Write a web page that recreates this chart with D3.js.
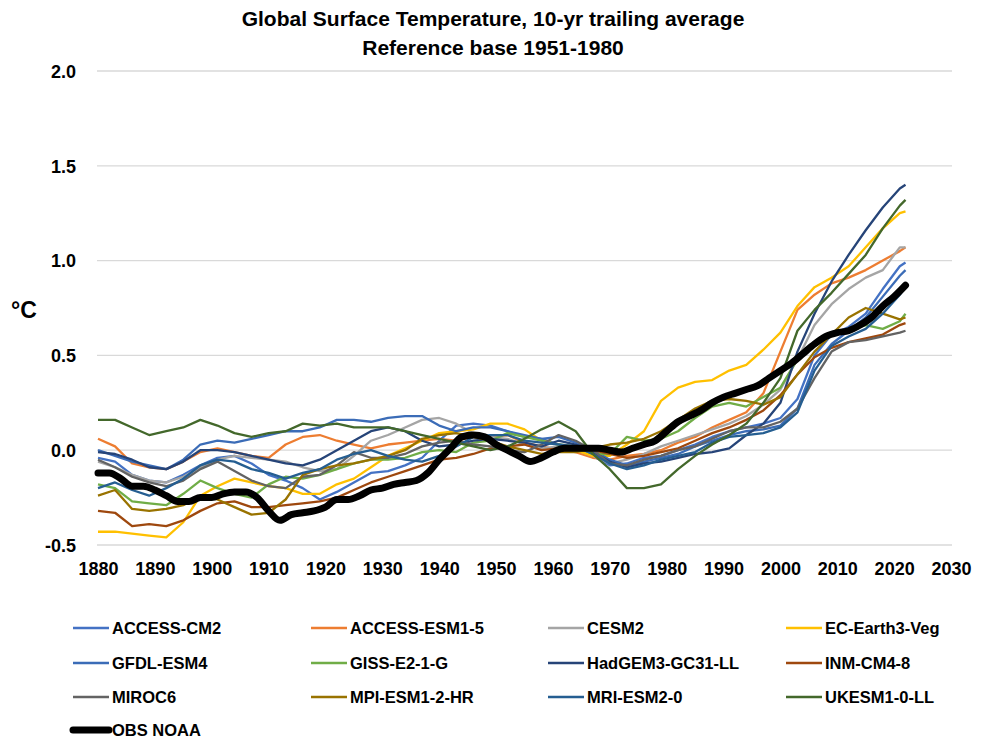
<!DOCTYPE html>
<html>
<head>
<meta charset="utf-8">
<script src="https://cdn.jsdelivr.net/npm/d3@7"></script>
<style>
  body { margin: 0; background: #fff; }
  text { font-family: "Liberation Sans", Arial, sans-serif; font-weight: bold; fill: #000; }
</style>
</head>
<body>
<svg id="chart" width="986" height="741"></svg>
<script>
// years the model curves were read at
var modelYears = [1880, 1883, 1886, 1889, 1892, 1895, 1898, 1901, 1904, 1907,
                  1910, 1913, 1916, 1919, 1922, 1925, 1928, 1931, 1934, 1937,
                  1940, 1943, 1946, 1949, 1952, 1955, 1958, 1961, 1964, 1967,
                  1970, 1973, 1976, 1979, 1982, 1985, 1988, 1991, 1994, 1997,
                  2000, 2003, 2006, 2009, 2012, 2015, 2018, 2021, 2022];

var obsYears = [1880, 1882, 1884, 1886, 1888, 1890, 1892, 1894, 1896, 1898,
                1900, 1902, 1904, 1906, 1908, 1910, 1912, 1914, 1916, 1918,
                1920, 1922, 1924, 1926, 1928, 1930, 1932, 1934, 1936, 1938,
                1940, 1942, 1944, 1946, 1948, 1950, 1952, 1954, 1956, 1958,
                1960, 1962, 1964, 1966, 1968, 1970, 1972, 1974, 1976, 1978,
                1980, 1982, 1984, 1986, 1988, 1990, 1992, 1994, 1996, 1998,
                2000, 2002, 2004, 2006, 2008, 2010, 2012, 2014, 2016, 2018,
                2020, 2022];

var accessCM2 = [-0.04, -0.06, -0.13, -0.16, -0.17, -0.13, -0.08, -0.04, -0.03, -0.07,
                 -0.13, -0.16, -0.20, -0.26, -0.22, -0.17, -0.12, -0.11, -0.08, -0.04,
                 0.05, 0.13, 0.14, 0.13, 0.10, 0.07, 0.06, 0.03, 0.01, -0.03,
                 -0.08, -0.07, -0.04, -0.03, 0.00, 0.03, 0.07, 0.10, 0.12, 0.14,
                 0.17, 0.27, 0.50, 0.61, 0.65, 0.72, 0.85, 0.97, 0.99];
var accessESM = [0.06, 0.02, -0.07, -0.09, -0.10, -0.06, -0.01, 0.01, -0.01, -0.03,
                 -0.04, 0.03, 0.07, 0.08, 0.05, 0.03, 0.01, 0.03, 0.04, 0.05,
                 0.06, 0.05, 0.07, 0.07, 0.08, 0.04, 0.02, 0.00, -0.01, -0.04,
                 -0.05, -0.03, -0.02, 0.00, 0.04, 0.07, 0.12, 0.16, 0.20, 0.30,
                 0.52, 0.74, 0.82, 0.88, 0.91, 0.95, 1.00, 1.05, 1.07];
var cesm2 = [-0.06, -0.09, -0.13, -0.16, -0.17, -0.14, -0.09, -0.05, -0.03, -0.04,
             -0.05, -0.06, -0.09, -0.11, -0.10, -0.03, 0.05, 0.08, 0.12, 0.16,
             0.17, 0.14, 0.09, 0.07, 0.06, 0.03, 0.01, 0.02, 0.00, -0.03,
             -0.07, -0.05, -0.02, 0.02, 0.05, 0.08, 0.11, 0.14, 0.18, 0.24,
             0.32, 0.48, 0.66, 0.77, 0.85, 0.91, 0.95, 1.07, 1.07];
var ecEarth = [-0.43, -0.43, -0.44, -0.45, -0.46, -0.38, -0.24, -0.19, -0.15, -0.17,
               -0.19, -0.20, -0.23, -0.23, -0.18, -0.15, -0.09, -0.03, 0.01, 0.05,
               0.09, 0.10, 0.11, 0.14, 0.14, 0.11, 0.05, 0.03, 0.00, -0.03,
               -0.03, 0.03, 0.10, 0.26, 0.33, 0.36, 0.37, 0.42, 0.45, 0.53,
               0.62, 0.76, 0.86, 0.91, 0.97, 1.07, 1.17, 1.25, 1.26];
var gfdl = [0.00, -0.03, -0.06, -0.08, -0.10, -0.05, 0.03, 0.05, 0.04, 0.06,
            0.08, 0.10, 0.10, 0.12, 0.16, 0.16, 0.15, 0.17, 0.18, 0.18,
            0.13, 0.10, 0.12, 0.12, 0.10, 0.08, 0.06, 0.07, 0.04, 0.00,
            -0.05, -0.08, -0.06, -0.04, -0.02, 0.02, 0.05, 0.08, 0.10, 0.11,
            0.13, 0.22, 0.45, 0.56, 0.63, 0.70, 0.81, 0.92, 0.95];
var giss = [-0.18, -0.20, -0.27, -0.28, -0.29, -0.23, -0.16, -0.20, -0.23, -0.25,
            -0.18, -0.14, -0.15, -0.13, -0.10, -0.07, -0.05, -0.05, -0.04, -0.01,
            0.00, -0.01, 0.04, 0.05, 0.09, 0.07, 0.05, 0.03, 0.02, -0.02,
            -0.02, 0.07, 0.05, 0.06, 0.10, 0.17, 0.23, 0.25, 0.23, 0.28,
            0.33, 0.48, 0.55, 0.61, 0.63, 0.66, 0.64, 0.68, 0.72];
var hadgem = [-0.01, -0.02, -0.05, -0.09, -0.10, -0.06, 0.00, 0.00, -0.01, -0.03,
              -0.05, -0.07, -0.08, -0.05, 0.00, 0.05, 0.10, 0.12, 0.10, 0.05,
              0.02, 0.03, 0.05, 0.06, 0.05, 0.04, 0.02, 0.05, 0.03, -0.01,
              -0.06, -0.09, -0.07, -0.06, -0.04, -0.02, -0.01, 0.01, 0.08, 0.14,
              0.25, 0.52, 0.72, 0.89, 1.03, 1.16, 1.28, 1.38, 1.40];
var inm = [-0.32, -0.33, -0.40, -0.39, -0.40, -0.37, -0.32, -0.28, -0.27, -0.30,
           -0.30, -0.29, -0.28, -0.27, -0.25, -0.21, -0.17, -0.14, -0.11, -0.08,
           -0.05, -0.04, -0.02, 0.01, 0.02, 0.03, 0.00, 0.01, 0.00, 0.00,
           -0.02, -0.04, -0.03, -0.01, 0.01, 0.05, 0.09, 0.12, 0.16, 0.21,
           0.29, 0.40, 0.49, 0.54, 0.57, 0.59, 0.61, 0.66, 0.67];
var miroc = [-0.05, -0.09, -0.14, -0.17, -0.19, -0.16, -0.10, -0.06, -0.11, -0.16,
             -0.19, -0.20, -0.14, -0.13, -0.08, -0.01, -0.04, -0.04, -0.02, 0.02,
             0.04, 0.05, 0.03, 0.02, 0.00, -0.01, 0.03, 0.08, 0.05, 0.00,
             -0.07, -0.08, -0.05, -0.03, 0.00, 0.02, 0.06, 0.10, 0.12, 0.12,
             0.15, 0.22, 0.38, 0.52, 0.57, 0.58, 0.60, 0.62, 0.63];
var mpi = [-0.24, -0.21, -0.31, -0.32, -0.31, -0.29, -0.24, -0.26, -0.30, -0.34,
           -0.33, -0.26, -0.13, -0.10, -0.08, -0.07, -0.05, -0.03, 0.00, 0.06,
           0.08, 0.09, 0.07, 0.05, 0.02, 0.00, -0.02, -0.01, -0.01, 0.01,
           0.03, 0.04, 0.06, 0.10, 0.16, 0.22, 0.26, 0.27, 0.26, 0.24,
           0.28, 0.40, 0.52, 0.61, 0.70, 0.75, 0.72, 0.69, 0.70];
var mri = [-0.20, -0.17, -0.21, -0.24, -0.20, -0.15, -0.08, -0.05, -0.06, -0.10,
           -0.12, -0.15, -0.12, -0.10, -0.05, -0.02, 0.00, -0.03, -0.05, -0.06,
           -0.03, 0.02, 0.07, 0.08, 0.08, 0.05, 0.04, 0.03, 0.02, -0.02,
           -0.07, -0.10, -0.08, -0.05, -0.03, -0.01, 0.04, 0.07, 0.08, 0.09,
           0.12, 0.20, 0.42, 0.55, 0.60, 0.64, 0.72, 0.82, 0.86];
var ukesm = [0.16, 0.16, 0.12, 0.08, 0.10, 0.12, 0.16, 0.13, 0.09, 0.07,
             0.09, 0.10, 0.14, 0.13, 0.14, 0.12, 0.12, 0.12, 0.10, 0.08,
             0.06, 0.04, 0.02, 0.00, 0.02, 0.06, 0.11, 0.15, 0.10, -0.02,
             -0.10, -0.20, -0.20, -0.18, -0.10, -0.03, 0.03, 0.08, 0.14, 0.25,
             0.38, 0.63, 0.74, 0.83, 0.93, 1.03, 1.17, 1.29, 1.32];

var obsNOAA = [-0.12, -0.12, -0.15, -0.19, -0.19, -0.21, -0.24, -0.27, -0.27, -0.25,
               -0.25, -0.23, -0.22, -0.22, -0.25, -0.32, -0.37, -0.34, -0.33, -0.32,
               -0.30, -0.26, -0.26, -0.24, -0.21, -0.20, -0.18, -0.17, -0.16, -0.12,
               -0.05, 0.01, 0.07, 0.08, 0.07, 0.03, 0.00, -0.03, -0.06, -0.04,
               -0.01, 0.01, 0.01, 0.01, 0.01, 0.00, -0.01, 0.01, 0.03, 0.05,
               0.10, 0.15, 0.18, 0.21, 0.25, 0.28, 0.30, 0.32, 0.34, 0.38,
               0.42, 0.46, 0.51, 0.56, 0.60, 0.62, 0.63, 0.66, 0.70, 0.76,
               0.81, 0.87];

var modelNames = ["ACCESS-CM2", "ACCESS-ESM1-5", "CESM2", "EC-Earth3-Veg",
                  "GFDL-ESM4", "GISS-E2-1-G", "HadGEM3-GC31-LL", "INM-CM4-8",
                  "MIROC6", "MPI-ESM1-2-HR", "MRI-ESM2-0", "UKESM1-0-LL"];
var modelValues = [accessCM2, accessESM, cesm2, ecEarth, gfdl, giss,
                   hadgem, inm, miroc, mpi, mri, ukesm];
var modelColors = ["#4472C4", "#ED7D31", "#A5A5A5", "#FFC000",
                   "#3B6CB7", "#70AD47", "#264478", "#9E480E",
                   "#636363", "#997300", "#255E91", "#43682B"];

var yTicks = [-0.5, 0, 0.5, 1, 1.5, 2];
var xTicks = [1880, 1890, 1900, 1910, 1920, 1930, 1940, 1950, 1960, 1970,
              1980, 1990, 2000, 2010, 2020, 2030];

var svg = d3.select("#chart");

var x = d3.scaleLinear().domain([1880, 2030]).range([98, 951]);
var y = d3.scaleLinear().domain([-0.5, 2]).range([545, 71]);

// title
svg.append("text").attr("x", 493).attr("y", 26).attr("text-anchor", "middle")
   .style("font-size", "21px").text("Global Surface Temperature, 10-yr trailing average");
svg.append("text").attr("x", 493).attr("y", 55).attr("text-anchor", "middle")
   .style("font-size", "21px").text("Reference base 1951-1980");

// gridlines
svg.append("g").selectAll("line").data(yTicks).enter().append("line")
   .attr("x1", 97).attr("x2", 952)
   .attr("y1", function(d){ return y(d); }).attr("y2", function(d){ return y(d); })
   .style("stroke", "#d9d9d9").style("stroke-width", 1.3);

// y axis labels (plain hyphen for negatives, like the original)
var yAxis = d3.axisLeft(y).tickValues(yTicks)
    .tickFormat(function(d){ return d.toFixed(1); })
    .tickSize(0).tickPadding(21);
svg.append("g").attr("transform", "translate(97,0)").call(yAxis)
   .call(function(g){ g.select(".domain").remove(); })
   .selectAll("text").style("font-size", "18px").attr("dy", "0.35em");

// x axis labels
var xAxis = d3.axisBottom(x).tickValues(xTicks).tickFormat(d3.format("d")).tickSize(0).tickPadding(17);
svg.append("g").attr("transform", "translate(0,545)").call(xAxis)
   .call(function(g){ g.select(".domain").remove(); })
   .selectAll("text").style("font-size", "18px");

svg.append("text").attr("x", 11).attr("y", 318).style("font-size", "23px").text("°C");

// model lines
var modelLine = d3.line()
    .x(function(d, i){ return x(modelYears[i]); })
    .y(function(d){ return y(d); });

svg.append("g").selectAll("path").data(modelValues).enter().append("path")
   .attr("d", modelLine)
   .style("fill", "none")
   .style("stroke", function(d, i){ return modelColors[i]; })
   .style("stroke-width", 2.3)
   .style("stroke-linejoin", "round");

// observations on top
var obsLine = d3.line()
    .x(function(d, i){ return x(obsYears[i]); })
    .y(function(d){ return y(d); })
    .curve(d3.curveMonotoneX);

svg.append("path").datum(obsNOAA).attr("d", obsLine)
   .style("fill", "none").style("stroke", "#000").style("stroke-width", 7)
   .style("stroke-linejoin", "round").style("stroke-linecap", "round");

// legend
var legendCols = [73, 311, 548, 786];
var legendRows = [628, 663, 697, 730];
var legendItems = modelNames.map(function(n, i){ return {name: n, color: modelColors[i], w: 2.3}; })
    .concat([{name: "OBS NOAA", color: "#000", w: 7}]);

var leg = svg.append("g").selectAll("g").data(legendItems).enter().append("g")
   .attr("transform", function(d, i){
     return "translate(" + legendCols[i % 4] + "," + legendRows[Math.floor(i / 4)] + ")";
   });
leg.append("line").attr("x1", 0).attr("x2", 36).attr("y1", 0).attr("y2", 0)
   .style("stroke", function(d){ return d.color; })
   .style("stroke-width", function(d){ return d.w; })
   .style("stroke-linecap", function(d){ return d.w > 3 ? "round" : "butt"; });
leg.append("text").attr("x", 39).attr("y", 0).attr("dy", "0.35em")
   .style("font-size", "16.5px").text(function(d){ return d.name; });
</script>
</body>
</html>
